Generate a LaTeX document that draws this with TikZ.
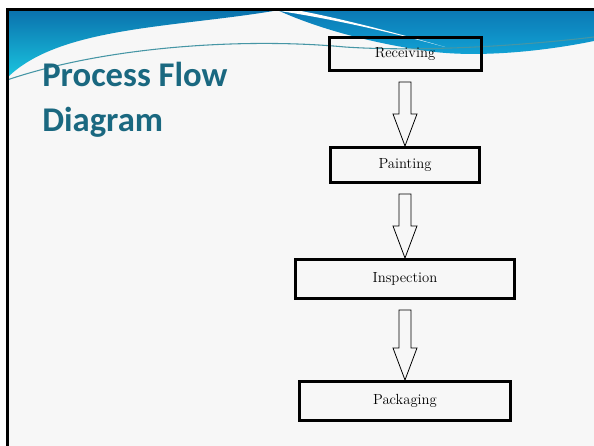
\documentclass[tikz,border=0pt]{standalone}
\usepackage{fontspec}
\newfontfamily\titlefont{Carlito}
\usetikzlibrary{positioning,calc}
\definecolor{titleteal}{RGB}{26,104,128}
\definecolor{hdrblue}{RGB}{10,112,172}
\definecolor{hdrcyan}{RGB}{26,198,224}
\definecolor{hdrmid}{RGB}{14,150,210}
\definecolor{hdrline}{RGB}{70,150,165}
\definecolor{slidebg}{RGB}{247,247,247}
\tikzset{
  stagebox/.style={draw, line width=2.25pt, rectangle, align=center, font=\fontsize{11}{13}\selectfont},
  hollow/.style={draw, line width=0.6pt, line join=miter},
}
% hollow block arrow from the bottom of #1 down to the top of #2
\newcommand{\flowarrow}[2]{%
  \draw[hollow] let \p1=(#1.south), \p2=(#2.north) in
    (\x2-4.5pt,\y1-7.5pt) -- (\x2+4.5pt,\y1-7.5pt) -- (\x2+4.5pt,\y2+24pt)
    -- (\x2+9pt,\y2+24pt) -- (\x2,\y2) -- (\x2-9pt,\y2+24pt)
    -- (\x2-4.5pt,\y2+24pt) -- cycle;}

\begin{document}
\begin{tikzpicture}[x=0.75pt, y=-0.75pt, node distance=55.5pt]
  \useasboundingbox (0,0) rectangle (594,446);
  \fill[white] (0,0) rectangle (594,446);
  \fill[slidebg] (7,9) rectangle (594,446);

  % header waves
  \shade[top color=hdrblue, bottom color=hdrcyan]
    (7,9) -- (285,9) .. controls (180,28) and (60,25) .. (7,78) -- cycle;
  \shade[top color=hdrblue!80!hdrmid, bottom color=hdrmid!70!hdrcyan]
    (275,9) -- (594,9) -- (594,41) .. controls (540,52) and (480,57) .. (435,52)
    .. controls (380,45) and (320,30) .. (275,9) -- cycle;
  \fill[white] (266,9) .. controls (330,18) and (390,32) .. (445,47)
    .. controls (380,28) and (320,14) .. (290,9) -- cycle;
  \draw[hdrline, line width=0.8pt] (7,80) .. controls (110,45) and (250,38) .. (345,47)
    .. controls (420,52) and (520,46) .. (594,37);

  % slide frame
  \draw[line width=2.25pt] (7,446) -- (7,9) -- (594,9);

  \node[anchor=base west, inner sep=0pt, align=left, text=titleteal,
        font=\titlefont\bfseries\fontsize{26}{34.5}\selectfont] (title) at (42,132)
    {Process Flow\\Diagram};

  \node[stagebox, minimum width=114pt, minimum height=24.75pt] (rec) at (405,54) {Receiving};
  \node[stagebox, minimum width=111.75pt, minimum height=26.25pt, below=of rec] (pnt) {Painting};
  \node[stagebox, minimum width=164.25pt, minimum height=29.25pt, below=of pnt] (ins) {Inspection};
  \node[stagebox, minimum width=158.25pt, minimum height=29.25pt, below=60pt of ins] (pkg) {Packaging};

  \flowarrow{rec}{pnt}
  \flowarrow{pnt}{ins}
  \flowarrow{ins}{pkg}
\end{tikzpicture}
\end{document}
